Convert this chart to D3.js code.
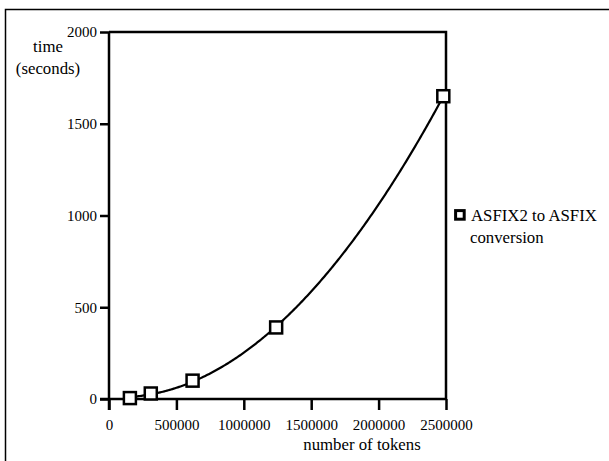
<!DOCTYPE html>
<html>
<head>
<meta charset="utf-8">
<script src="https://cdn.jsdelivr.net/npm/d3@7"></script>
<style>
  body { margin: 0; background: #fff; }
  svg { display: block; }
</style>
</head>
<body>
<svg id="chart" width="609" height="461"></svg>
<script>
const tokens = [155000, 310000, 620000, 1240000, 2480000]
const seconds = [5, 30, 100, 390, 1650]
const xTicks = [0, 500000, 1000000, 1500000, 2000000, 2500000]
const yTicks = [0, 500, 1000, 1500, 2000]
const seriesName = ['ASFIX2 to ASFIX', 'conversion']

const FONT = '"Liberation Serif", Tinos, "Times New Roman", serif'
const WORD_SIZE = '16.8px'

const svg = d3.select('#chart')
  .style('font-family', FONT)
  .style('font-size', '15px')

// outer frame (only top and left are inside the picture)
svg.append('rect')
  .attr('x', 5.5).attr('y', 9.5)
  .attr('width', 700).attr('height', 600)
  .attr('fill', 'none').attr('stroke', '#000').attr('stroke-width', 1.5)

const x = d3.scaleLinear().domain([0, 2500000]).range([109, 446])
const y = d3.scaleLinear().domain([0, 2000]).range([399, 32])

const g = svg.append('g')

// plot box top and right
g.append('path')
  .attr('d', `M${x(0)},${y(2000)}H${x(2500000)}V${y(0)}`)
  .attr('fill', 'none').attr('stroke', '#000').attr('stroke-width', 2.5)

const xAxis = g.append('g')
  .attr('transform', `translate(0,${y(0)})`)
  .call(d3.axisBottom(x).tickValues(xTicks).tickSize(11).tickPadding(9).tickFormat(d3.format('d')))
const yAxis = g.append('g')
  .attr('transform', `translate(${x(0)},0)`)
  .call(d3.axisLeft(y).tickValues(yTicks).tickSize(9).tickPadding(3).tickFormat(d3.format('d')))

for (const ax of [xAxis, yAxis]) {
  ax.attr('font-family', null).attr('font-size', null)
  ax.select('.domain').remove()
  ax.selectAll('line').attr('stroke', '#000').attr('stroke-width', 2.5)
  ax.selectAll('text').attr('fill', '#000')
}
// axis lines, extended past origin like the original
g.append('line')
  .attr('x1', x(0) - 9).attr('x2', x(2500000))
  .attr('y1', y(0)).attr('y2', y(0))
  .attr('stroke', '#000').attr('stroke-width', 2.5)
g.append('line')
  .attr('x1', x(0)).attr('x2', x(0))
  .attr('y1', y(2000)).attr('y2', y(0) + 11)
  .attr('stroke', '#000').attr('stroke-width', 2.5)

// axis titles
const titles = g.append('g').style('font-size', WORD_SIZE)
titles.append('text').attr('x', 48).attr('y', 52).attr('text-anchor', 'middle').text('time')
titles.append('text').attr('x', 48).attr('y', 74).attr('text-anchor', 'middle').text('(seconds)')
titles.append('text').attr('x', 362).attr('y', 450).attr('text-anchor', 'middle').text('number of tokens')

const pts = tokens.map((t, i) => [t, seconds[i]])

// quadratic least-squares trend line, as in the original
function fitQuadratic(xs, ys) {
  const s = [0, 0, 0, 0, 0], t = [0, 0, 0]
  xs.forEach((xv, i) => {
    for (let k = 0; k < 5; k++) s[k] += Math.pow(xv, k)
    for (let k = 0; k < 3; k++) t[k] += ys[i] * Math.pow(xv, k)
  })
  const A = [[s[0], s[1], s[2], t[0]], [s[1], s[2], s[3], t[1]], [s[2], s[3], s[4], t[2]]]
  for (let i = 0; i < 3; i++) {
    for (let j = i + 1; j < 3; j++) {
      const f = A[j][i] / A[i][i]
      for (let k = i; k < 4; k++) A[j][k] -= f * A[i][k]
    }
  }
  const c = [0, 0, 0]
  for (let i = 2; i >= 0; i--) {
    let v = A[i][3]
    for (let k = i + 1; k < 3; k++) v -= A[i][k] * c[k]
    c[i] = v / A[i][i]
  }
  return c
}
const M = 1e6
const coef = fitQuadratic(tokens.map(d => d / M), seconds)
const fit = xv => coef[0] + coef[1] * (xv / M) + coef[2] * (xv / M) * (xv / M)
const trend = d3.range(120000, tokens[tokens.length - 1] + 1, 10000)
  .map(xv => [xv, Math.max(0, fit(xv))])

const line = d3.line()
  .x(d => x(d[0]))
  .y(d => y(d[1]))

g.append('path')
  .datum(trend)
  .attr('d', line)
  .attr('fill', 'none').attr('stroke', '#000').attr('stroke-width', 2.2)

const sq = 12
g.selectAll('.pt').data(pts).enter().append('rect')
  .attr('class', 'pt')
  .attr('x', d => x(d[0]) - sq / 2)
  .attr('y', d => y(d[1]) - sq / 2)
  .attr('width', sq).attr('height', sq)
  .attr('fill', '#fff').attr('stroke', '#000').attr('stroke-width', 2.5)

// legend
const lg = svg.append('g').attr('transform', 'translate(454,209)').style('font-size', WORD_SIZE)
lg.append('rect').attr('x', 1.6).attr('y', 1.6).attr('width', 8.6).attr('height', 8.6)
  .attr('fill', '#fff').attr('stroke', '#000').attr('stroke-width', 3)
lg.selectAll('text').data(seriesName).enter().append('text')
  .attr('x', (d, i) => i === 0 ? 17 : 16)
  .attr('y', (d, i) => 11.7 + i * 22.6)
  .text(d => d)
</script>
</body>
</html>
